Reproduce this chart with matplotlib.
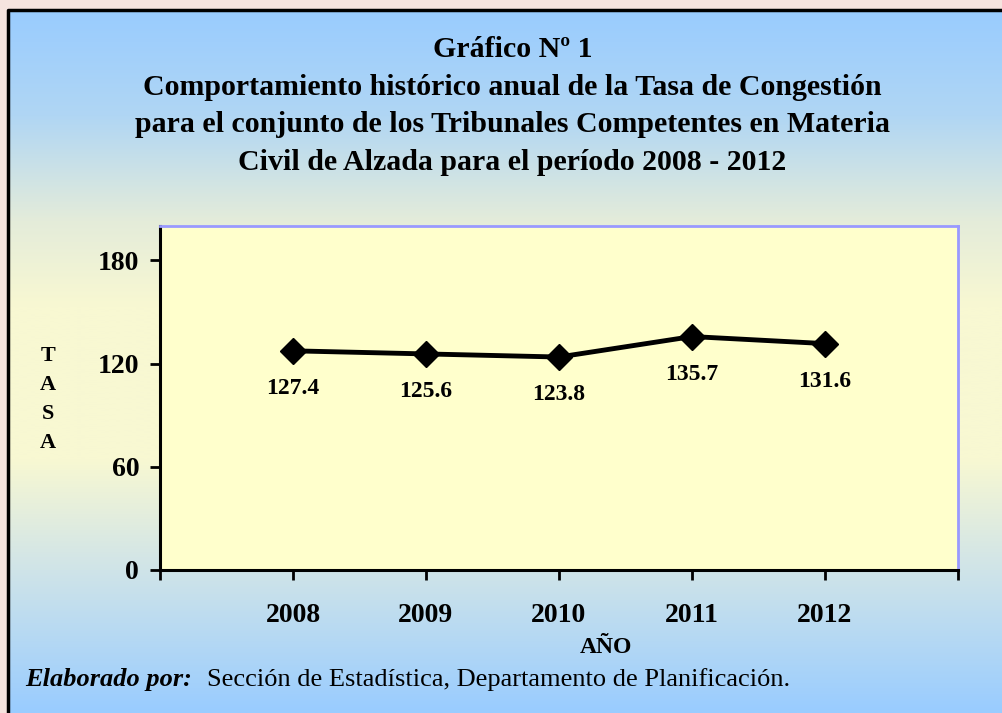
import numpy as np
import matplotlib.pyplot as plt
from matplotlib.colors import LinearSegmentedColormap
from matplotlib.lines import Line2D

years = [2008, 2009, 2010, 2011, 2012]
tasa = [127.4, 125.6, 123.8, 135.7, 131.6]
yticks = [0, 60, 120, 180]

plt.rcParams['font.family'] = ['Liberation Serif', 'DejaVu Serif']

fig = plt.figure(figsize=(10.03, 7.13), dpi=100)
fig.patch.set_facecolor('#f6e4df')

# background gradient (blue -> pale yellow -> blue)
bg = fig.add_axes([0.008, 0, 0.992, 0.986])
grad = LinearSegmentedColormap.from_list('bg', [
    (0.0, '#99ccff'), (0.15, '#b0d6f4'), (0.3, '#e4ecda'),
    (0.42, '#f8f8d2'), (0.64, '#f8f8d2'), (0.78, '#d4e6e6'),
    (0.9, '#b4d8f4'), (1.0, '#99ccff')])
bg.imshow(np.linspace(0, 1, 256).reshape(-1, 1), cmap=grad, aspect='auto',
          extent=[0, 1, 1, 0])
bg.set_xlim(0, 1)
bg.set_ylim(1, 0)
bg.axis('off')
# frame: left and top edges
bg.add_line(Line2D([0, 0, 1], [0, 1, 1], color='black', linewidth=2.5,
                   transform=bg.transAxes, clip_on=False))

ax = fig.add_axes([0.1595, 0.2006, 0.7956, 0.4825])
ax.set_facecolor('#ffffcc')
ax.plot(years, tasa, color='black', linewidth=3.5, marker='D',
        markersize=13, zorder=3)
for x, v in zip(years, tasa):
    ax.annotate(f'{v:.1f}', (x, v), xytext=(0, -27), textcoords='offset points',
                ha='center', va='center', fontsize=17, fontweight='bold')

ax.set_xlim(2007, 2013)
ax.set_ylim(0, 200)
ax.set_xticks(range(2007, 2014))
ax.set_xticklabels([''] + [str(y) for y in years] + [''])
ax.set_yticks(yticks)
ax.tick_params(axis='both', direction='out', length=7, width=2,
               labelsize=20, pad=8)
ax.tick_params(axis='x', pad=17)
for lbl in ax.get_xticklabels() + ax.get_yticklabels():
    lbl.set_fontweight('bold')
for s in ['left', 'bottom']:
    ax.spines[s].set_linewidth(2.2)
    ax.spines[s].set_color('black')
for s in ['top', 'right']:
    ax.spines[s].set_linewidth(2)
    ax.spines[s].set_color('#9999ff')

title = ('Gráfico Nº 1\n'
         'Comportamiento histórico anual de la Tasa de Congestión\n'
         'para el conjunto de los Tribunales Competentes en Materia\n'
         'Civil de Alzada para el período 2008 - 2012')
fig.text(0.511, 0.851, title, ha='center', va='center', fontsize=21.5,
         fontweight='bold', linespacing=1.5)

fig.text(0.048, 0.44, 'T\nA\nS\nA', ha='center', va='center', fontsize=16,
         fontweight='bold', linespacing=1.6)
fig.text(0.604, 0.092, 'AÑO', ha='center', va='center', fontsize=17,
         fontweight='bold')
fig.text(0.025, 0.047, 'Elaborado por:', ha='left', va='center', fontsize=19,
         fontweight='bold', fontstyle='italic')
fig.text(0.206, 0.047, 'Sección de Estadística, Departamento de Planificación.',
         ha='left', va='center', fontsize=19)

fig.savefig('out.png', dpi=100, facecolor=fig.get_facecolor())
